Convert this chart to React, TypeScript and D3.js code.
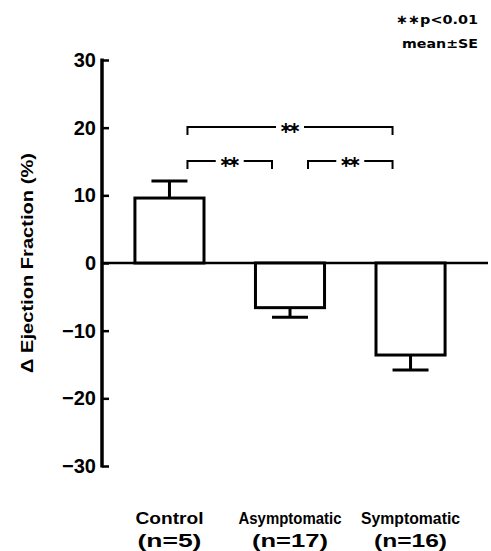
import React, { useRef, useEffect } from 'react';
import * as d3 from 'd3';

const groups = ['Control', 'Asymptomatic', 'Symptomatic'];
const groupN = ['(n=5)', '(n=17)', '(n=16)'];
const means = [9.6, -6.6, -13.6];
const errors = [2.5, 1.4, 2.2];
const yTicks = [-30, -20, -10, 0, 10, 20, 30];
// pairs of group indexes, level 0 = lower bracket
const comparisons = [
  { from: 0, to: 1, level: 0, label: '\u2217\u2217' },
  { from: 1, to: 2, level: 0, label: '\u2217\u2217' },
  { from: 0, to: 2, level: 1, label: '\u2217\u2217' },
];
const legendLines = ['\u2217\u2217p<0.01', 'mean\u00b1SE'];

const width = 491;
const height = 551;
const font = '"Liberation Sans", Arial, sans-serif';

export default function App() {
  const svgRef = useRef<SVGSVGElement>(null);

  useEffect(() => {
    const svg = d3.select(svgRef.current);
    svg.selectAll('*').remove();

    const axisX = 102;
    const yScale = d3.scaleLinear().domain([-30, 30]).range([466, 60]);
    const xScale = d3.scaleBand().domain(groups).range([106, 474]).paddingInner(0.427).paddingOuter(0.24);
    const bw = xScale.bandwidth();
    const capHalf = 18;
    const cx = (i: number) => (xScale(groups[i]) as number) + bw / 2;

    // y axis
    const yAxis = d3.axisRight(yScale).tickValues(yTicks).tickSize(7).tickFormat(() => '');
    const yg = svg.append('g').attr('transform', `translate(${axisX},0)`).call(yAxis);
    yg.select('.domain').attr('stroke', '#000').attr('stroke-width', 3.5).attr('d', `M0,${yScale(30) - 1.5}V${yScale(-30) + 1.5}`);
    yg.selectAll('line').attr('stroke', '#000').attr('stroke-width', 2.5);

    svg.append('g')
      .selectAll('text')
      .data(yTicks)
      .enter()
      .append('text')
      .attr('x', 96)
      .attr('y', (d) => yScale(d) + 7)
      .attr('text-anchor', 'end')
      .attr('font-family', font)
      .attr('font-weight', 'bold')
      .attr('font-size', 20)
      .text((d) => (d < 0 ? `\u2212${-d}` : `${d}`));

    svg.append('text')
      .attr('transform', `translate(33,${263}) rotate(-90)`)
      .attr('text-anchor', 'middle')
      .attr('font-family', font)
      .attr('font-weight', 'bold')
      .attr('font-size', 17)
      .attr('textLength', 220)
      .attr('lengthAdjust', 'spacingAndGlyphs')
      .text('\u0394 Ejection Fraction (%)');

    // zero line
    svg.append('line')
      .attr('x1', axisX)
      .attr('x2', 488)
      .attr('y1', yScale(0))
      .attr('y2', yScale(0))
      .attr('stroke', '#000')
      .attr('stroke-width', 2.5);

    // bars
    svg.append('g')
      .selectAll('rect')
      .data(means)
      .enter()
      .append('rect')
      .attr('x', (d, i) => xScale(groups[i]) as number)
      .attr('y', (d) => yScale(Math.max(0, d)))
      .attr('width', bw)
      .attr('height', (d) => Math.abs(yScale(d) - yScale(0)))
      .attr('fill', 'white')
      .attr('stroke', '#000')
      .attr('stroke-width', 3);

    // error bars
    const eg = svg.append('g').attr('stroke', '#000').attr('stroke-width', 3);
    means.forEach((m, i) => {
      const end = m >= 0 ? m + errors[i] : m - errors[i];
      eg.append('line').attr('x1', cx(i)).attr('x2', cx(i)).attr('y1', yScale(m)).attr('y2', yScale(end));
      eg.append('line').attr('x1', cx(i) - capHalf).attr('x2', cx(i) + capHalf).attr('y1', yScale(end)).attr('y2', yScale(end));
    });

    // significance brackets
    const bracketY = [161, 127];
    const bg = svg.append('g');
    comparisons.forEach((c) => {
      const x1 = cx(c.from) + capHalf;
      const x2 = cx(c.to) - capHalf;
      const y = bracketY[c.level];
      const mid = (x1 + x2) / 2;
      const gap = 14;
      bg.append('path')
        .attr('d', `M${x1},${y + 8}V${y}H${mid - gap}M${mid + gap},${y}H${x2}V${y + 8}`)
        .attr('fill', 'none')
        .attr('stroke', '#000')
        .attr('stroke-width', 2);
      bg.append('text')
        .attr('x', mid)
        .attr('y', y)
        .attr('dy', '0.35em')
        .attr('text-anchor', 'middle')
        .attr('font-family', '"DejaVu Sans", sans-serif')
        .attr('font-weight', 'bold')
        .attr('font-size', 16)
        .attr('textLength', 22)
        .text(c.label);
    });

    // category labels
    const nameWidths = [68, 103, 99];
    const nWidths = [64, 76, 73];
    const lg = svg.append('g')
      .attr('font-family', font)
      .attr('font-weight', 'bold')
      .attr('text-anchor', 'middle');
    groups.forEach((g, i) => {
      const x = cx(i);
      lg.append('text').attr('x', x).attr('y', 524).attr('font-size', 17)
        .attr('textLength', nameWidths[i]).attr('lengthAdjust', 'spacingAndGlyphs').text(g);
      lg.append('text').attr('x', x).attr('y', 547).attr('font-size', 19)
        .attr('textLength', nWidths[i]).attr('lengthAdjust', 'spacingAndGlyphs').text(groupN[i]);
    });

    // legend
    svg.append('g')
      .selectAll('text')
      .data(legendLines)
      .enter()
      .append('text')
      .attr('x', 478)
      .attr('y', (d, i) => 24 + i * 24)
      .attr('text-anchor', 'end')
      .attr('font-family', '"DejaVu Sans", sans-serif')
      .attr('font-weight', 'bold')
      .attr('font-size', 13)
      .attr('textLength', (d, i) => (i === 0 ? 82 : 76))
      .attr('lengthAdjust', 'spacingAndGlyphs')
      .text((d) => d);
  }, []);

  return <svg ref={svgRef} width={width} height={height} style={{ position: 'absolute', left: 0, top: 0, background: 'white' }} />;
}
